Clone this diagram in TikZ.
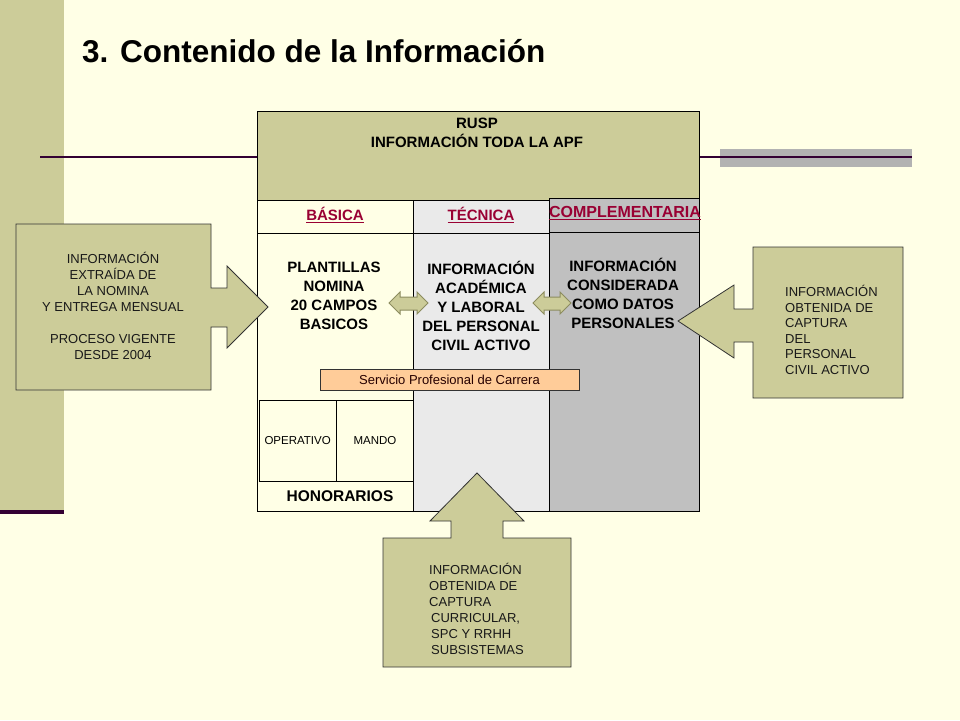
\documentclass[tikz,border=0pt]{standalone}
\usepackage{fontspec}
\setmainfont{Liberation Sans}
\usepackage{xcolor}
\usetikzlibrary{positioning}
\definecolor{fondo}{HTML}{FFFFE6}
\definecolor{olivo}{HTML}{CCCC99}
\definecolor{olivoosc}{HTML}{8C8C5F}
\definecolor{morado}{HTML}{330033}
\definecolor{grisbarra}{HTML}{B2B2B2}
\definecolor{gristec}{HTML}{EAEAEA}
\definecolor{griscomp}{HTML}{C0C0C0}
\definecolor{guinda}{HTML}{990033}
\definecolor{durazno}{HTML}{FFCC99}
\tikzset{
  celda/.style={draw=black, line width=0.8pt, inner sep=0pt},
  cabeza/.style={text=guinda, inner sep=0pt, font=\bfseries\fontsize{15}{18}\selectfont},
  cuerpo/.style={align=center, inner sep=0pt, font=\bfseries\fontsize{15}{19}\selectfont},
  nota/.style={inner sep=0pt, text=black!90, font=\fontsize{13}{16}\selectfont},
  globo/.style={draw=black!80, line width=0.8pt, fill=olivo},
  dflecha/.style={draw=olivoosc, line width=1pt, fill=olivo}
}

\begin{document}
\begin{tikzpicture}[x=1pt,y=-1pt]
\fill [fondo] (0,0) rectangle (960,720);
\useasboundingbox (0,0) rectangle (960,720);
% barra lateral y titulo
\fill [olivo] (0,0) rectangle (64,511);
\draw [morado, line width=4pt] (0,512) -- (64,512);
\node [anchor=base west, inner sep=0pt, font=\bfseries\fontsize{31.5}{38}\selectfont] (titulo) at (82,62) {3. Contenido de la Información};
\fill [grisbarra] (720,149) rectangle (912,167);
\draw [morado, line width=2.5pt] (40,157) -- (912,157);

% cuadro RUSP
\node [celda, fill=olivo, minimum width=442, minimum height=89, anchor=north west] (rusp) at (257,111) {};
\node [align=center, inner sep=0pt, font=\bfseries\fontsize{15}{19}\selectfont] (ruspt) at (477,133) {RUSP\\INFORMACIÓN TODA LA APF};

% columnas
\node [celda, fill=fondo, minimum width=156, minimum height=311, anchor=north west] (basica) at (257,200) {};
\node [celda, fill=gristec, minimum width=136, minimum height=311, anchor=north west] (tecnica) at (413,200) {};
\node [celda, fill=griscomp, minimum width=150, minimum height=313, anchor=north west] (compl) at (549,198) {};
\draw [celda] (257,233) -- (549,233);
\draw [celda] (549,232) -- (699,232);
\node [cabeza] (hbas) at (335,215) {\underline{BÁSICA}};
\node [cabeza] (htec) at (481,215) {\underline{TÉCNICA}};
\node [cabeza, font=\bfseries\fontsize{16}{18}\selectfont] (hcom) at (625,213) {\underline{COMPLEMENTARIA}};

\node [cuerpo] (plantillas) at (334,296) {PLANTILLAS\\NOMINA\\20 CAMPOS\\BASICOS};
\node [cuerpo] (academica) at (481,306) {INFORMACIÓN\\ACADÉMICA\\Y LABORAL\\DEL PERSONAL\\CIVIL ACTIVO};
\node [cuerpo] (datos) at (623,293) {INFORMACIÓN\\CONSIDERADA\\COMO DATOS\\PERSONALES};

\node [draw=black!80, fill=durazno, minimum width=259, minimum height=21, inner sep=0pt, font=\fontsize{13}{15}\selectfont, text=black!85!red] (spc) at (449.5,379.5) {Servicio Profesional de Carrera};

\node [celda, minimum width=76.5, minimum height=81, anchor=north west, font=\fontsize{11.5}{14}\selectfont] (operativo) at (259,400) {OPERATIVO};
\node [celda, minimum width=76.5, minimum height=81, anchor=north west, font=\fontsize{11.5}{14}\selectfont] (mando) at (operativo.north east) {MANDO};
\node [cuerpo, font=\bfseries\fontsize{15.5}{19}\selectfont] (honorarios) at (340,496) {HONORARIOS};

% flechas dobles
\draw [dflecha] (389,303) -- (400,292) -- (400,297) -- (417,297) -- (417,292) -- (428,303) -- (417,314) -- (417,310) -- (400,310) -- (400,314) -- cycle;
\draw [dflecha] (533,303) -- (544,292) -- (544,297) -- (560,297) -- (560,292) -- (571,303) -- (560,314) -- (560,310) -- (544,310) -- (544,314) -- cycle;

% globos con flecha
\draw [globo] (16,224) -- (211,224) -- (211,288) -- (227,288) -- (227,266) -- (268,307) -- (227,348) -- (227,327) -- (211,327) -- (211,390) -- (16,390) -- cycle;
\draw [globo] (903,247) -- (753,247) -- (753,309) -- (734,309) -- (734,285) -- (678,321) -- (734,358) -- (734,342) -- (753,342) -- (753,398) -- (903,398) -- cycle;
\draw [globo] (383,538) -- (451,538) -- (451,521) -- (430,521) -- (477,473) -- (524,521) -- (503,521) -- (503,538) -- (571,538) -- (571,667) -- (383,667) -- cycle;

\node [nota, align=center] (nomina) at (113,306) {INFORMACIÓN\\EXTRAÍDA DE\\LA NOMINA\\Y ENTREGA MENSUAL\\[16pt]PROCESO VIGENTE\\DESDE 2004};
\node [nota, align=left, anchor=west, font=\fontsize{13}{15.6}\selectfont] (captura) at (785,330) {INFORMACIÓN\\OBTENIDA DE\\CAPTURA\\DEL\\PERSONAL\\CIVIL ACTIVO};
\node [nota, align=left, anchor=west] (curricular) at (429,609) {INFORMACIÓN\\OBTENIDA DE\\CAPTURA\\\hspace*{2pt}CURRICULAR,\\\hspace*{2pt}SPC Y RRHH\\\hspace*{2pt}SUBSISTEMAS};
\end{tikzpicture}
\end{document}
